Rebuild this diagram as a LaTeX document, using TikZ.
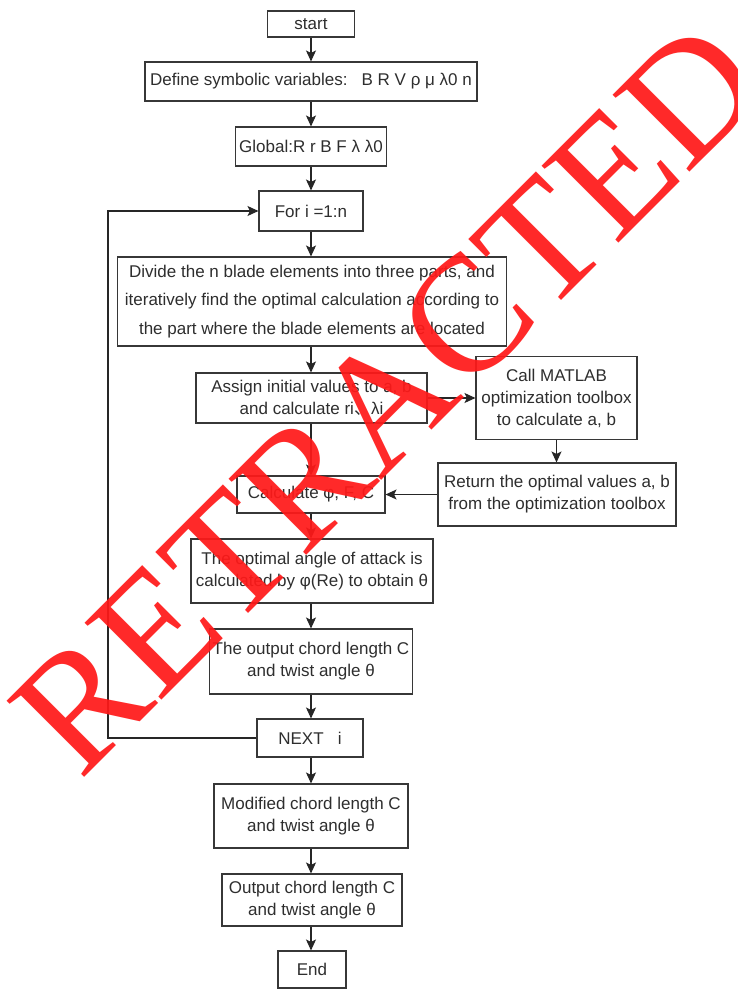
\documentclass[tikz,border=0pt]{standalone}
\usepackage{fontspec}
\setmainfont{Liberation Sans}
\newfontfamily\cjk{Noto Sans CJK SC}
\newfontfamily\wmfont{Liberation Serif}
\usetikzlibrary{arrows.meta,calc}
\definecolor{boxline}{RGB}{55,55,55}
\definecolor{wmred}{RGB}{255,25,25}
\begin{document}
\begin{tikzpicture}[x=1pt,y=-1pt,
  box/.style={draw=boxline,line width=1.1pt,inner sep=0pt,align=center,
    font=\fontsize{17}{22}\selectfont,text=black!82},
  arr/.style={draw=black!85,line width=1.1pt,-{Stealth[length=11pt,width=10pt,inset=2.5pt]}},
  wm/.style={font=\wmfont\fontsize{166}{166}\selectfont,text=wmred,text opacity=0.93,rotate=45,anchor=base,inner sep=0pt}]
\useasboundingbox (0,0) rectangle (738,990);
\fill[white] (0,0) rectangle (738,990);

\node[box,minimum width=87pt,minimum height=26pt] (start) at (311,24) {start};
\node[box,minimum width=332pt,minimum height=39pt] (define) at (311,81.5) {Define symbolic variables:~~~B R V ρ μ λ0 n};
\node[box,minimum width=151pt,minimum height=39pt] (global) at (311,146.5) {Global:R r B F λ λ0};
\node[box,minimum width=104pt,minimum height=40pt] (for) at (311,211) {For i =1:n};
\node[box,minimum width=389pt,minimum height=89pt,font=\fontsize{17}{28.5}\selectfont] (divide) at (312,301.5) {Divide the n blade elements into three parts, and\\iteratively find the optimal calculation according to\\the part where the blade elements are located};
\node[box,minimum width=231pt,minimum height=50pt] (assign) at (311.5,398) {Assign initial values to a, b\\and calculate ri{\cjk 、}λi};
\node[box,minimum width=161pt,minimum height=83pt] (call) at (556.5,398) {Call MATLAB\\optimization toolbox\\to calculate a, b};
\node[box,minimum width=238pt,minimum height=63pt] (return) at (557,494.5) {Return the optimal values a, b\\from the optimization toolbox};
\node[box,minimum width=148pt,minimum height=37pt] (calc) at (311,494.5) {Calculate φ, F, C};
\node[box,minimum width=242pt,minimum height=64pt] (optimal) at (312,571) {The optimal angle of attack is\\calculated by φ(Re) to obtain θ};
\node[box,minimum width=203pt,minimum height=65pt] (outchord) at (311,661.5) {The output chord length C\\and twist angle θ};
\node[box,minimum width=106pt,minimum height=38pt] (next) at (310,738) {NEXT~~~i};
\node[box,minimum width=194pt,minimum height=64pt] (modified) at (311,816) {Modified chord length C\\and twist angle θ};
\node[box,minimum width=180pt,minimum height=52pt] (output) at (312,900) {Output chord length C\\and twist angle θ};
\node[box,minimum width=68pt,minimum height=37pt] (end) at (312,969.5) {End};

\coordinate (loopx) at (108,0);
\coordinate (colx) at (311,0);

\draw[arr] (start.south -| colx) -- (define.north -| colx);
\draw[arr] (define.south -| colx) -- (global.north -| colx);
\draw[arr] (global.south -| colx) -- (for.north -| colx);
\draw[arr] (for.south -| colx) -- (divide.north -| colx);
\draw[arr] (divide.south -| colx) -- (assign.north -| colx);
\draw[arr] (assign.east) -- (assign.east -| call.west);
\draw[arr] (call.south) -- (call.south |- return.north);
\draw[arr] (return.west) -- (return.west -| calc.east);
\draw[arr] (assign.south -| colx) -- (calc.north -| colx);
\draw[arr] (calc.south -| colx) -- (optimal.north -| colx);
\draw[arr] (optimal.south -| colx) -- (outchord.north -| colx);
\draw[arr] (outchord.south -| colx) -- (next.north -| colx);
\draw[arr] (next.west) -- (next.west -| loopx) |- (for.west);
\draw[arr] (next.south -| colx) -- (modified.north -| colx);
\draw[arr] (modified.south -| colx) -- (output.north -| colx);
\draw[arr] (output.south -| colx) -- (end.north -| colx);

\node[wm] (watermark) at (426,436) {RETRACTED};
\end{tikzpicture}
\end{document}
